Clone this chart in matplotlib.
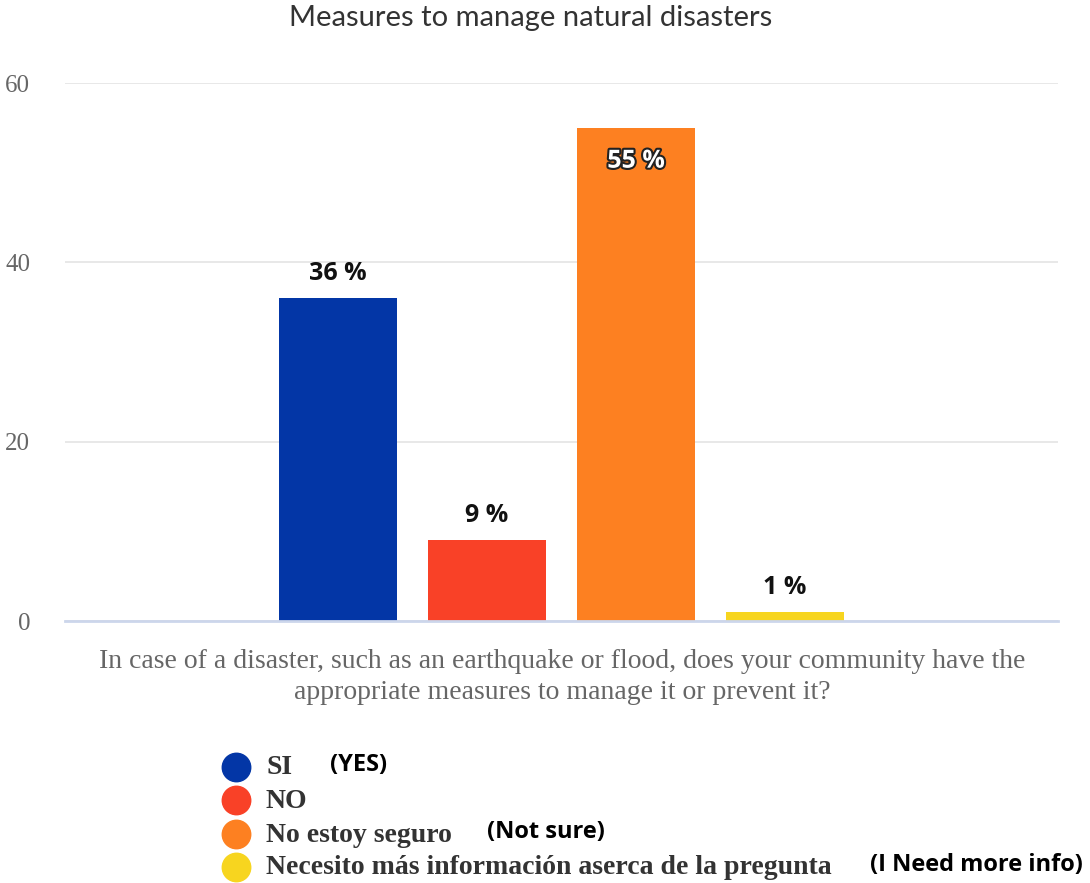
import matplotlib
matplotlib.use("Agg")
import matplotlib.pyplot as plt
import matplotlib.patheffects as pe

# Survey answers and their shares (%)
categories = ["SI", "NO", "No estoy seguro", "Necesito más información aserca de la pregunta"]
translations = ["(YES)", "", "(Not sure)", "(I Need more info)"]
values = [36, 9, 55, 1]
colors = ["#0336a6", "#f94127", "#fd8021", "#f7d51f"]
yticks = [0, 20, 40, 60]
title = "Measures to manage natural disasters"
question = ("In case of a disaster, such as an earthquake or flood, does your community have the\n"
            "appropriate measures to manage it or prevent it?")

W, H = 1090, 883
fig = plt.figure(figsize=(W / 100, H / 100), dpi=100)
fig.patch.set_facecolor("white")

# main plot area
ax = fig.add_axes([65 / W, 1 - 621 / H, (1058 - 65) / W, (621 - 83) / H])
positions = [i - (len(values) - 1) / 2 for i in range(len(values))]
bars = ax.bar(positions, values, width=0.79, color=colors, zorder=3)
ax.set_xlim(-3.33, 3.33)
ax.set_ylim(0, 60)
ax.set_yticks(yticks)
ax.set_yticklabels([str(t) for t in yticks], family="Liberation Serif", fontsize=18, color="#666666")
ax.tick_params(axis="y", length=0, pad=25)
ax.tick_params(axis="x", length=0, labelbottom=False)
ax.grid(axis="y", color="#e6e6e6", linewidth=1.3, zorder=0)
for s in ["top", "right", "left"]:
    ax.spines[s].set_visible(False)
ax.spines["bottom"].set_color("#ccd6eb")
ax.spines["bottom"].set_linewidth(2)
ax.spines["bottom"].set_zorder(4)

# value labels
for x, v in zip(positions, values):
    if v >= 50:
        ax.annotate(f"{v} %", (x, v), xytext=(0, -33), textcoords="offset points",
                    ha="center", va="bottom", fontsize=18, fontweight="bold",
                    family="Open Sans", color="white", zorder=5,
                    path_effects=[pe.withStroke(linewidth=3, foreground="#222222")])
    else:
        ax.annotate(f"{v} %", (x, v), xytext=(0, 9), textcoords="offset points",
                    ha="center", va="bottom", fontsize=18, fontweight="bold",
                    family="Open Sans", color="#111111", zorder=5)

# overlay in pixel coordinates for title, question and legend
ov = fig.add_axes([0, 0, 1, 1], facecolor="none")
ov.set_xlim(0, W)
ov.set_ylim(H, 0)
ov.axis("off")

ov.text(531, 18, title, ha="center", va="center", family="Lato", fontsize=21, color="#333333")
ov.text(562, 677, question, ha="center", va="center", family="Liberation Serif",
        fontsize=20, color="#666666", linespacing=1.35)

legend_y = [767, 800, 834, 867]
for y, c, name in zip(legend_y, colors, categories):
    ov.scatter([236], [y], s=420, color=c, zorder=3)
    ov.text(266, y + 1, name, ha="left", va="center", family="Liberation Serif",
            fontsize=20, fontweight="bold", color="#333333")
for y, tr, x in zip(legend_y, translations, [330, 0, 487, 870]):
    if tr:
        ov.text(x, y - 2, tr, ha="left", va="center", family="Open Sans",
                fontsize=17, fontweight="bold", color="black")

fig.savefig("out.png", dpi=100)
